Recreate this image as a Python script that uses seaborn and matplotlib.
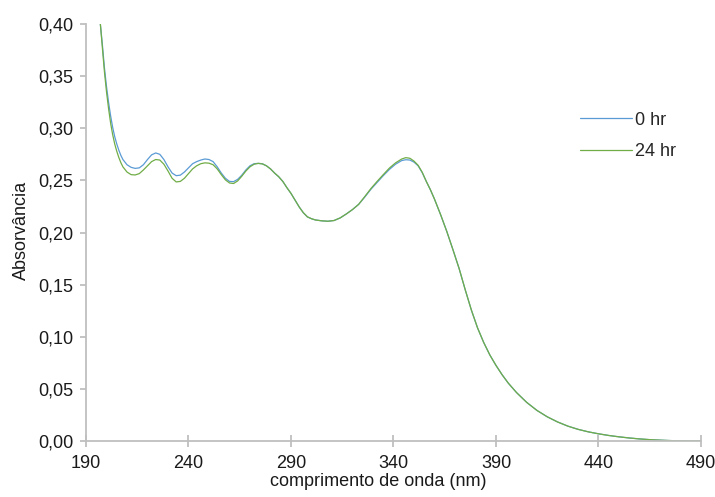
import matplotlib
matplotlib.use("Agg")
import matplotlib.pyplot as plt
from matplotlib.ticker import FuncFormatter, MultipleLocator
import pandas as pd
import seaborn as sns

# UV-Vis spectra (wavelength in nm, absorbance)
wavelength = [197, 198, 199, 200, 201, 202, 203, 204, 205, 206, 207, 208, 210, 212, 214,
              216, 218, 220, 222, 224, 226, 228, 230, 232, 234, 236, 238, 240, 242, 244,
              246, 248, 250, 252, 254, 256, 258, 260, 262, 264, 266, 268, 270, 272, 274,
              276, 278, 280, 282, 284, 286, 288, 290, 292, 294, 296, 298, 300, 302, 305,
              308, 311, 314, 317, 320, 323, 326, 329, 332, 335, 338, 341, 344, 346, 348,
              350, 352, 354, 356, 358, 360, 363, 366, 369, 372, 375, 378, 381, 384, 387,
              390, 393, 396, 400, 405, 410, 415, 420, 425, 430, 435, 440, 445, 450, 455,
              460, 465, 470, 475, 480, 485, 490]

abs_0hr = [0.400, 0.380, 0.358, 0.340, 0.325, 0.312, 0.301, 0.292, 0.285, 0.279, 0.274, 0.270, 0.265, 0.2625, 0.2615,
           0.262, 0.265, 0.270, 0.2745, 0.2763, 0.275, 0.270, 0.263, 0.257, 0.2545, 0.255, 0.258, 0.262, 0.266, 0.268,
           0.2695, 0.2705, 0.270, 0.268, 0.263, 0.257, 0.252, 0.249, 0.2488, 0.251, 0.255, 0.260, 0.264, 0.266, 0.2663,
           0.266, 0.264, 0.261, 0.257, 0.2535, 0.249, 0.243, 0.2375, 0.231, 0.2245, 0.219, 0.215, 0.2132, 0.212, 0.2112,
           0.2108, 0.2115, 0.214, 0.2178, 0.222, 0.227, 0.234, 0.2415, 0.248, 0.2545, 0.2605, 0.2655, 0.269, 0.2698, 0.2695,
           0.2675, 0.264, 0.2575, 0.249, 0.241, 0.232, 0.217, 0.201, 0.1835, 0.1655, 0.145, 0.1255, 0.1085, 0.0945, 0.0825,
           0.0725, 0.0635, 0.0555, 0.0465, 0.037, 0.0293, 0.0232, 0.0183, 0.0143, 0.0112, 0.0088, 0.0069, 0.0053, 0.0040, 0.0029,
           0.0020, 0.0013, 0.0008, 0.0004, 0.0002, 0.0001, 0.0]

abs_24hr = [0.400, 0.377, 0.354, 0.335, 0.319, 0.305, 0.294, 0.285, 0.278, 0.272, 0.267, 0.263, 0.258, 0.2555, 0.2552,
            0.2565, 0.260, 0.264, 0.268, 0.270, 0.2695, 0.2655, 0.259, 0.252, 0.2485, 0.249, 0.252, 0.2565, 0.261, 0.264,
            0.266, 0.2668, 0.2665, 0.265, 0.261, 0.2555, 0.2505, 0.2475, 0.247, 0.2495, 0.254, 0.259, 0.263, 0.2655, 0.2663,
            0.2658, 0.264, 0.261, 0.257, 0.2535, 0.249, 0.243, 0.2375, 0.231, 0.2245, 0.219, 0.215, 0.2132, 0.212, 0.2112,
            0.2108, 0.2115, 0.214, 0.2178, 0.222, 0.227, 0.2345, 0.2422, 0.249, 0.2555, 0.2618, 0.2668, 0.2705, 0.2718, 0.2712,
            0.2685, 0.2645, 0.2578, 0.249, 0.241, 0.232, 0.217, 0.201, 0.1835, 0.1655, 0.145, 0.1255, 0.1085, 0.0945, 0.0825,
            0.0725, 0.0635, 0.0555, 0.0465, 0.037, 0.0293, 0.0232, 0.0183, 0.0143, 0.0112, 0.0088, 0.0069, 0.0053, 0.0040, 0.0029,
            0.0020, 0.0013, 0.0008, 0.0004, 0.0002, 0.0001, 0.0]

series_labels = ["0 hr", "24 hr"]
series_colors = ["#5B9BD5", "#70AD47"]

x_ticks = [190, 240, 290, 340, 390, 440, 490]

df = pd.concat([
    pd.DataFrame({"wl": wavelength, "A": abs_0hr, "serie": series_labels[0]}),
    pd.DataFrame({"wl": wavelength, "A": abs_24hr, "serie": series_labels[1]}),
])

sns.set_theme(style="white")
plt.rcParams["font.family"] = ["Liberation Sans", "DejaVu Sans"]

FS = 13
TXT = "#1a1a1a"

fig = plt.figure(figsize=(7.15, 4.97), dpi=100)
ax = fig.add_axes([86 / 715, 1 - 441 / 497, 615 / 715, 417 / 497])

sns.lineplot(data=df, x="wl", y="A", hue="serie", palette=series_colors,
             linewidth=0.9, ax=ax, sort=False, estimator=None)

ax.set_xlim(190, 490)
ax.set_ylim(0, 0.40)
ax.set_xticks(x_ticks)
ax.yaxis.set_major_locator(MultipleLocator(0.05))
ax.yaxis.set_major_formatter(FuncFormatter(lambda v, p: f"{v:.2f}".replace(".", ",")))

grey = "#BFBFBF"
for side in ["top", "right"]:
    ax.spines[side].set_visible(False)
for side in ["left", "bottom"]:
    ax.spines[side].set_color(grey)
    ax.spines[side].set_linewidth(1.3)

ax.tick_params(axis="x", direction="inout", length=8, width=1.3, color=grey,
               labelsize=FS, labelcolor=TXT, pad=6, bottom=True)
ax.tick_params(axis="y", direction="out", length=4, width=1.3, color=grey,
               labelsize=FS, labelcolor=TXT, pad=5, left=True)

ax.set_xlabel("comprimento de onda (nm)", fontsize=FS, color=TXT, labelpad=1)
ax.xaxis.label.set_x(0.475)
ax.set_ylabel("Absorvância", fontsize=FS, color=TXT, labelpad=6)
ax.yaxis.label.set_y(0.505)

ax.legend(title=None, frameon=False, loc="upper left", bbox_to_anchor=(0.803, 0.79),
          borderaxespad=0, borderpad=0, handlelength=2.9, handletextpad=0.17,
          labelspacing=0.8, fontsize=FS)

fig.savefig("out.png", dpi=100)
